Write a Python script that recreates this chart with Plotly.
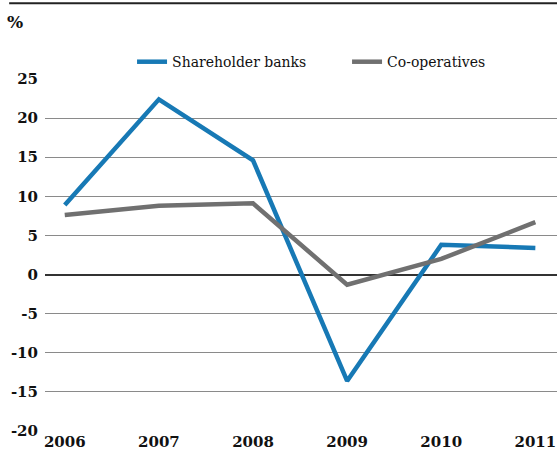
import plotly.graph_objects as go

years = [2006, 2007, 2008, 2009, 2010, 2011]
shareholder = [8.9, 22.4, 14.6, -13.6, 3.8, 3.4]
coops = [7.6, 8.8, 9.1, -1.3, 2.0, 6.7]
y_ticks = [-20, -15, -10, -5, 0, 5, 10, 15, 20, 25]

FONT = "DejaVu Serif"

fig = go.Figure()
fig.add_trace(go.Scatter(x=years, y=shareholder, mode="lines", name="Shareholder banks",
                         line=dict(color="#1779b5", width=4.5)))
fig.add_trace(go.Scatter(x=years, y=coops, mode="lines", name="Co-operatives",
                         line=dict(color="#707070", width=4.5)))

tick_font = dict(family=FONT, size=15, color="#111", weight="bold")

fig.update_layout(
    width=557, height=457,
    margin=dict(l=45, r=0, t=79, b=26, autoexpand=False),
    paper_bgcolor="white", plot_bgcolor="white",
    font=dict(family=FONT, size=16, color="#111"),
    showlegend=True,
    legend=dict(orientation="h", x=0.17, y=1.048, xanchor="left", yanchor="middle",
                font=dict(family=FONT, size=14, color="#111"),
                bgcolor="rgba(0,0,0,0)", itemwidth=30,
                entrywidth=170, entrywidthmode="pixels"),
    xaxis=dict(range=[2005.79, 2011.23], tickvals=years, ticktext=[str(y) for y in years],
               showgrid=False, zeroline=False, showline=False, ticks="",
               tickfont=tick_font),
    yaxis=dict(range=[-20, 25], tickvals=y_ticks, ticktext=[str(v) for v in y_ticks],
               showgrid=True, gridcolor="#8a8a8a", gridwidth=1.2,
               zeroline=True, zerolinecolor="#333", zerolinewidth=1.5,
               showline=False, ticks="", ticklabelstandoff=6,
               tickfont=tick_font),
)

fig.add_shape(type="line", xref="paper", yref="paper", x0=-0.07, x1=1.0, y0=1.215, y1=1.215,
              line=dict(color="#222", width=2))
fig.add_annotation(text="%", xref="paper", yref="paper", x=-0.058, y=1.162,
                   showarrow=False, xanchor="center", yanchor="middle",
                   font=dict(family=FONT, size=17, color="#111", weight="bold"))

fig.write_html("out.html")
